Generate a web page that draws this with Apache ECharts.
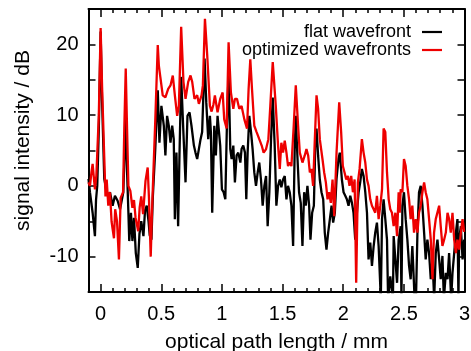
<!DOCTYPE html>
<html>
<head>
<meta charset="utf-8">
<script src="https://cdn.jsdelivr.net/npm/echarts@6/dist/echarts.min.js"></script>
<style>html,body{margin:0;padding:0;background:#fff}#c{width:471px;height:351px}</style>
</head>
<body>
<div id="c"></div>
<script>
// ---- data (optical path length in mm, signal intensity in dB) ----
const xRed = [-0.1,-0.088,-0.075,-0.066,-0.055,-0.047,-0.035,-0.015,0.0,0.012,0.03,0.04,0.05,0.063,0.077,0.09,0.099,0.11,0.12,0.135,0.151,0.165,0.185,0.195,0.207,0.218,0.229,0.245,0.262,0.275,0.288,0.31,0.322,0.335,0.35,0.37,0.388,0.398,0.413,0.423,0.43,0.45,0.471,0.48,0.493,0.512,0.534,0.557,0.576,0.595,0.612,0.631,0.645,0.664,0.683,0.7,0.722,0.741,0.755,0.774,0.796,0.81,0.832,0.843,0.86,0.879,0.901,0.915,0.93,0.942,0.964,0.986,1.006,1.019,1.039,1.055,1.074,1.094,1.107,1.124,1.143,1.162,1.185,1.207,1.22,1.234,1.248,1.267,1.286,1.308,1.328,1.344,1.364,1.383,1.399,1.419,1.444,1.463,1.477,1.49,1.504,1.518,1.532,1.545,1.559,1.573,1.592,1.609,1.628,1.642,1.664,1.683,1.697,1.711,1.725,1.738,1.752,1.766,1.78,1.793,1.807,1.829,1.843,1.857,1.871,1.884,1.898,1.912,1.926,1.945,1.967,1.983,1.997,2.011,2.025,2.039,2.052,2.066,2.08,2.094,2.107,2.121,2.135,2.154,2.168,2.182,2.196,2.209,2.223,2.237,2.251,2.264,2.278,2.292,2.306,2.32,2.333,2.347,2.361,2.375,2.388,2.402,2.416,2.43,2.444,2.457,2.466,2.474,2.488,2.501,2.515,2.529,2.543,2.556,2.57,2.584,2.598,2.612,2.625,2.639,2.653,2.667,2.68,2.694,2.708,2.722,2.736,2.749,2.763,2.777,2.791,2.804,2.818,2.832,2.846,2.86,2.873,2.887,2.901,2.915,2.929,2.942,2.956,2.97,2.984,2.997];
const yRed = [0.5,0.0,2.0,3.1,1.0,-0.5,1.5,10,22.3,14,4,-1.5,0.9,-2.8,-0.9,-5,-6.1,-7.4,-3.3,-5,-10.4,-1.7,-0.9,8,16.6,8,0,-0.7,-3.1,-2,-4.5,-6.4,-3,-1.5,-4,0.7,2.6,-1.5,-10,-4,-0.5,9,19.9,17,15.3,12.8,12.5,13.7,14.2,15.6,12.8,9.9,11.3,22.5,14.7,12.3,14.7,15.6,14.7,12.3,12.8,11.6,12.8,14.2,23.6,18.4,11.3,10.5,11.5,12.8,10.4,12.3,13.2,9.4,8.1,20.3,13.2,10.9,12.3,12.3,10.9,11.3,9.4,8.1,13.7,17.9,13.7,8.5,7.6,6.6,5.7,4.7,5.2,6.6,11.3,17.5,11.3,5.7,2.4,6.1,4.7,6.4,4.7,2.8,3.3,2.8,8.5,14.2,8.5,4.7,3.3,4.3,5.2,4.3,1.9,2.4,0,6.6,12.8,10.9,6.6,3.8,1.9,0.5,-1.9,-0.9,-2.4,0.9,-4.3,4.7,11.8,7.6,2.8,1.9,0.9,1.4,0,1.4,-0.9,0.9,-13.7,0.5,2.4,6.6,4.7,3.3,0.9,0,-1.9,-2.8,-3.3,-3.8,-1.4,-4.7,-2.8,-0.5,8.1,7.6,1.9,-1.9,-3.3,-3.8,-5.7,-3.8,-7.1,-0.9,-3.8,-0.5,-0.9,3.8,2.8,0,-1.9,-4.7,-2.8,-6.6,-4.7,-6.6,-3.8,-2.8,-0.9,0.5,-0.9,-1.9,-4.7,-7.6,-13.2,-6.6,-4.7,-4.7,-2.8,-5.7,-8.5,-7.6,-6.6,-3.8,-4.7,-6.6,-3.8,-7.6,-9.5,-7.6,-9.0,-6.6,-4.7,-6.5];

const xBlack = [-0.1,-0.088,-0.066,-0.047,-0.038,-0.028,-0.015,0.0,0.012,0.03,0.05,0.063,0.077,0.09,0.099,0.118,0.14,0.16,0.187,0.207,0.218,0.229,0.236,0.25,0.262,0.275,0.29,0.306,0.32,0.335,0.353,0.366,0.38,0.395,0.405,0.419,0.43,0.45,0.471,0.485,0.501,0.521,0.534,0.548,0.562,0.576,0.59,0.603,0.612,0.625,0.639,0.65,0.664,0.681,0.7,0.716,0.733,0.749,0.769,0.782,0.796,0.81,0.824,0.837,0.857,0.871,0.887,0.901,0.909,0.92,0.937,0.95,0.964,0.986,1.0,1.014,1.028,1.041,1.055,1.069,1.08,1.094,1.107,1.121,1.135,1.152,1.162,1.176,1.19,1.201,1.212,1.226,1.24,1.253,1.267,1.281,1.295,1.308,1.322,1.336,1.35,1.364,1.377,1.391,1.405,1.419,1.435,1.449,1.463,1.477,1.49,1.504,1.518,1.532,1.545,1.559,1.573,1.587,1.6,1.609,1.622,1.636,1.65,1.664,1.678,1.691,1.705,1.719,1.73,1.744,1.758,1.771,1.78,1.793,1.807,1.821,1.835,1.848,1.862,1.876,1.89,1.904,1.917,1.931,1.945,1.961,1.972,1.989,2.003,2.017,2.03,2.044,2.058,2.072,2.085,2.099,2.113,2.127,2.14,2.154,2.168,2.182,2.196,2.209,2.223,2.237,2.251,2.264,2.278,2.292,2.31,2.32,2.333,2.347,2.361,2.37,2.388,2.41,2.416,2.43,2.444,2.457,2.474,2.48,2.488,2.501,2.515,2.529,2.543,2.556,2.57,2.59,2.6,2.612,2.625,2.639,2.653,2.667,2.68,2.694,2.708,2.722,2.736,2.75,2.763,2.777,2.791,2.804,2.818,2.83,2.846,2.86,2.873,2.89,2.901,2.915,2.929,2.942,2.95,2.956,2.97,2.984,2.997];
const yBlack = [1,-0.9,-3.8,-7.1,-2,0,8,21.8,12,1,-0.9,-1.5,-0.9,-2,-2.8,-1.4,-2.1,-3.3,-0.9,9.4,2,-3.8,-7.8,-3.8,-7.8,-4.5,-9.5,-11.6,-6.8,-5,-7.1,-3.5,-2.8,-5,-7,-7.6,-1.7,5,13.5,6.1,11.3,8.5,4.3,9.9,8.5,6.1,8.5,6.6,-4.7,4.7,-5.7,4.3,15.4,8.1,0.5,9.9,10.4,8.5,5.7,4.7,3.8,5.2,6.6,7.6,18.0,11.8,6.6,9.9,7.6,-3.8,8.5,4.3,9.9,5.7,-0.5,-0.9,-1.9,8.5,16.1,5.2,3.8,5.7,0.5,4.3,4.7,3.3,5.2,5.7,4.7,-1.9,4.7,9.9,7.6,5.2,1.9,0,1.9,3.3,0.9,-2.8,0,1.4,-5.7,-0.9,6.6,12.5,5.7,-2.8,0,0.9,-0.2,0.9,1.4,-1.9,0,-0.9,-2.8,-8.5,5.2,9.9,4.3,-0.9,-2.4,-8.5,-0.9,-2.8,0,-2.8,-7.6,-3.8,-2.8,6.6,8.1,4.3,0.9,-0.9,-1.9,-6.6,-9.0,-6.6,-4.7,-2.8,-5.2,-3.8,1,3.8,4.7,0.9,-0.9,-1.4,-1.9,-2.8,-1.4,-2.4,-3.8,-7.6,-3.8,-0.9,0.5,2.4,1.4,-0.9,-3.8,-10.4,-8.0,-11.3,-8.5,-6.6,-5.2,-8.5,-16,-4.7,-1.9,-4.7,-7.6,-16,-12.8,-16,-7.1,-10.4,-13.7,-7.6,-5.7,-16,-2.8,-0.9,-4.7,-7.6,-11.3,-13.2,-8.5,-16.5,-16,-6.6,-0.9,0,-2.8,-6.6,-10.4,-7.6,-9.5,-13.2,-10.4,-16,-9.5,-7.6,-10.4,-13.2,-9.9,-16,-12.3,-13.2,-9.5,-16,-12.3,-9.5,-6.6,-4.7,-16,-7.6,-5.7,-10.4,-7.6];

const seriesNames = ['flat wavefront', 'optimized wavefronts'];
const xTickLabels = [0, 0.5, 1, 1.5, 2, 2.5, 3];
const yTickLabels = [-10, 0, 10, 20];

const FONT = "'Liberation Sans', Arial, sans-serif";
const chart = echarts.init(document.getElementById('c'), null, {renderer: 'canvas'});

function xAxisCfg(pos, major, showLabels) {
  const base = {
    type: 'value', position: pos, min: -0.1, max: 3.0,
    axisLine: {show: major, onZero: false, lineStyle: {color: '#000', width: 2}},
    splitLine: {show: false},
  };
  if (major) {
    base.axisTick = {show: true, inside: true, length: 8, customValues: xTickLabels, lineStyle: {color: '#000', width: 1.5}};
    base.axisLabel = {show: showLabels, customValues: xTickLabels, margin: 12, color: '#000', fontSize: 20, fontFamily: FONT, formatter: v => String(v)};
  } else {
    base.interval = 0.1;
    base.axisTick = {show: true, inside: true, length: 4, lineStyle: {color: '#000', width: 1.5}};
    base.axisLabel = {show: false};
  }
  return base;
}

const LINE_ICON = 'path://M0,0L20,0L20,2.2L0,2.2Z';

const option = {
  animation: false,
  backgroundColor: '#fff',
  grid: {left: 88.5, right: 6.5, top: 9, bottom: 59, containLabel: false, outerBoundsMode: 'none'},
  legend: {
    orient: 'vertical', right: 29, top: 23, align: 'right', itemGap: 0, padding: 0,
    itemWidth: 20, itemHeight: 2.2,
    textStyle: {fontSize: 18, fontFamily: FONT, color: '#000', padding: [0, 6, 0, 0]},
    data: [
      {name: seriesNames[0], icon: LINE_ICON, itemStyle: {color: '#000'}},
      {name: seriesNames[1], icon: LINE_ICON, itemStyle: {color: '#ee0000'}}
    ]
  },
  xAxis: [
    Object.assign(xAxisCfg('bottom', true, true), {
      name: 'optical path length / mm', nameLocation: 'middle', nameGap: 40,
      nameTextStyle: {fontSize: 21, fontFamily: FONT, color: '#000'}
    }),
    xAxisCfg('bottom', false, false),
    xAxisCfg('top', true, false),
    xAxisCfg('top', false, false)
  ],
  yAxis: [
    {
      type: 'value', position: 'left', min: -15, max: 25, interval: 5,
      name: 'signal intensity / dB', nameLocation: 'middle', nameGap: 55, nameRotate: 90,
      nameTextStyle: {fontSize: 21, fontFamily: FONT, color: '#000', padding: [0, 0, 0, 20]},
      axisLine: {show: true, onZero: false, lineStyle: {color: '#000', width: 2}},
      axisTick: {show: true, inside: true, length: 7, lineStyle: {color: '#000', width: 1.5}},
      axisLabel: {margin: 10, color: '#000', fontSize: 20, fontFamily: FONT,
        formatter: v => (yTickLabels.indexOf(v) >= 0 ? String(v) : '')},
      splitLine: {show: false}
    },
    {
      type: 'value', position: 'right', min: -15, max: 25, interval: 5,
      axisLine: {show: true, onZero: false, lineStyle: {color: '#000', width: 2}},
      axisTick: {show: true, inside: true, length: 7, lineStyle: {color: '#000', width: 1.5}},
      axisLabel: {show: false},
      splitLine: {show: false}
    }
  ],
  series: [
    {
      name: seriesNames[0], type: 'line', xAxisIndex: 0, yAxisIndex: 0,
      showSymbol: false, symbol: 'none', clip: true,
      lineStyle: {color: '#000', width: 2.3}, itemStyle: {color: '#000'},
      data: xBlack.map((x, i) => [x, yBlack[i]])
    },
    {
      name: seriesNames[1], type: 'line', xAxisIndex: 0, yAxisIndex: 0,
      showSymbol: false, symbol: 'none', clip: true,
      lineStyle: {color: '#ee0000', width: 2.3}, itemStyle: {color: '#ee0000'},
      data: xRed.map((x, i) => [x, yRed[i]])
    }
  ]
};
chart.setOption(option);
</script>
</body>
</html>
